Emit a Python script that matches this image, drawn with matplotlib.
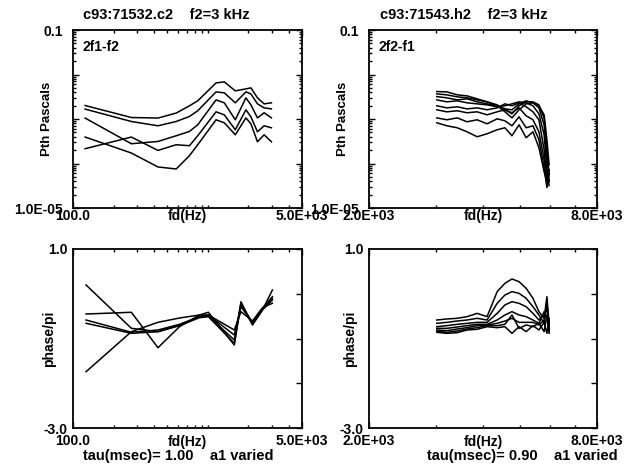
import matplotlib
matplotlib.use('Agg')
import matplotlib.pyplot as plt
from matplotlib.ticker import FixedLocator, FixedFormatter, LogLocator, NullFormatter

plt.rcParams['font.family'] = ['Liberation Sans', 'DejaVu Sans']
plt.rcParams['font.weight'] = 'bold'

# ---- top left: 2f1-f2 amplitude, f1 sweep ----
fd_left = [123, 271, 427, 583, 731, 842, 1152, 1326, 1600, 1918, 2088, 2336, 2618, 2965]
amp_left = [
    [2.01e-3, 1.08e-3, 1.05e-3, 1.36e-3, 1.98e-3, 2.56e-3, 6.48e-3, 6.82e-3, 4.29e-3, 4.75e-3, 5.01e-3, 2.99e-3, 2.19e-3, 2.31e-3],
    [1.67e-3, 8.79e-4, 7.04e-4, 8.79e-4, 1.14e-3, 1.53e-3, 4.07e-3, 3.87e-3, 2.31e-3, 4.07e-3, 3.67e-3, 2.19e-3, 1.78e-3, 1.69e-3],
    [1.05e-3, 2.78e-4, 3.13e-4, 4.20e-4, 5.25e-4, 7.41e-4, 2.69e-3, 2.31e-3, 9.60e-4, 2.99e-3, 2.08e-3, 1.06e-3, 1.38e-3, 1.06e-3],
    [3.93e-4, 1.72e-4, 8.35e-5, 7.53e-5, 1.50e-4, 2.64e-4, 9.60e-4, 8.22e-4, 4.42e-4, 1.06e-3, 7.80e-4, 3.08e-4, 4.42e-4, 3.08e-4],
    [2.15e-4, 3.93e-4, 1.97e-4, 2.64e-4, 2.51e-4, 4.20e-4, 1.45e-3, 1.24e-3, 5.73e-4, 1.61e-3, 1.12e-3, 5.16e-4, 7.04e-4, 6.35e-4],
]

# ---- bottom left: phase ----
fd_left_ph = [125, 271, 427, 617, 867, 1010, 1573, 1762, 2146, 2544, 3016]
phase_left = [
    [-0.453, -0.414, -1.206, -0.736, -0.475, -0.414, -1.145, -0.178, -0.698, -0.363, 0.084],
    [0.196, -0.772, -0.848, -0.698, -0.513, -0.475, -0.922, -0.289, -0.638, -0.325, -0.066],
    [-1.742, -0.848, -0.638, -0.542, -0.475, -0.475, -0.810, -0.401, -0.609, -0.312, -0.213],
    [-0.587, -0.861, -0.810, -0.683, -0.513, -0.497, -1.034, -0.213, -0.660, -0.341, -0.102],
    [-0.660, -0.884, -0.848, -0.714, -0.535, -0.513, -1.107, -0.251, -0.683, -0.363, -0.140],
]

# ---- top right: 2f2-f1 amplitude ----
fd_right = [3020, 3210, 3420, 3630, 3860, 4100, 4360, 4570, 4770, 4980, 5200, 5420, 5620, 5800, 5900, 5980]
amp_right = [
    [4.14e-3, 4.07e-3, 3.49e-3, 3.31e-3, 2.84e-3, 2.43e-3, 1.98e-3, 1.45e-3, 1.06e-3, 1.61e-3, 2.19e-3, 2.31e-3, 1.98e-3, 1.24e-3, 3.42e-4, 9.40e-5],
    [3.67e-3, 3.49e-3, 3.15e-3, 2.99e-3, 2.69e-3, 2.43e-3, 2.08e-3, 1.61e-3, 1.31e-3, 1.98e-3, 2.43e-3, 2.43e-3, 2.08e-3, 1.06e-3, 2.04e-4, 5.61e-5],
    [3.19e-3, 2.99e-3, 2.69e-3, 2.84e-3, 2.43e-3, 2.19e-3, 1.98e-3, 1.69e-3, 1.61e-3, 2.19e-3, 2.56e-3, 2.31e-3, 1.78e-3, 7.41e-4, 1.22e-4, 3.91e-5],
    [2.69e-3, 2.43e-3, 2.56e-3, 2.31e-3, 2.19e-3, 2.08e-3, 1.88e-3, 1.98e-3, 2.19e-3, 2.43e-3, 2.31e-3, 1.98e-3, 1.31e-3, 4.42e-4, 7.26e-5, 3.18e-5],
    [1.98e-3, 1.78e-3, 1.88e-3, 1.69e-3, 1.78e-3, 1.61e-3, 1.78e-3, 2.19e-3, 1.98e-3, 2.31e-3, 1.88e-3, 1.45e-3, 9.60e-4, 2.04e-4, 4.80e-5, 4.33e-5],
    [1.61e-3, 1.45e-3, 1.53e-3, 1.38e-3, 1.45e-3, 1.24e-3, 1.45e-3, 1.61e-3, 1.38e-3, 1.78e-3, 1.18e-3, 9.60e-4, 5.16e-4, 1.22e-4, 3.35e-5, 6.55e-5],
    [1.06e-3, 9.60e-4, 1.06e-3, 8.66e-4, 9.60e-4, 7.80e-4, 1.01e-3, 9.11e-4, 7.04e-4, 1.12e-3, 6.35e-4, 7.04e-4, 3.42e-4, 8.05e-5, 2.87e-5, 5.61e-5],
    [8.22e-4, 7.04e-4, 6.35e-4, 5.16e-4, 3.99e-4, 4.66e-4, 5.73e-4, 6.35e-4, 4.20e-4, 7.41e-4, 3.79e-4, 5.16e-4, 2.26e-4, 6.55e-5, 3.91e-5, 7.26e-5],
]

# ---- bottom right: phase ----
phase_right = [
    [-0.587, -0.564, -0.549, -0.512, -0.438, -0.512, 0.047, 0.233, 0.330, 0.270, 0.121, -0.102, -0.400, -0.549, -0.065, -0.698],
    [-0.661, -0.639, -0.609, -0.587, -0.549, -0.587, -0.214, -0.028, 0.047, 0.009, -0.102, -0.289, -0.475, -0.661, -0.177, -0.847],
    [-0.736, -0.713, -0.683, -0.661, -0.639, -0.639, -0.438, -0.251, -0.177, -0.214, -0.289, -0.438, -0.587, -0.475, -0.326, -0.773],
    [-0.773, -0.773, -0.743, -0.713, -0.683, -0.683, -0.587, -0.475, -0.400, -0.475, -0.512, -0.587, -0.661, -0.400, -0.549, -0.885],
    [-0.810, -0.825, -0.788, -0.758, -0.713, -0.698, -0.661, -0.609, -0.549, -0.639, -0.639, -0.639, -0.698, -0.587, -0.214, -0.810],
    [-0.832, -0.862, -0.832, -0.788, -0.758, -0.713, -0.713, -0.683, -0.475, -0.773, -0.698, -0.736, -0.661, -0.847, -0.475, -0.624],
    [-0.862, -0.885, -0.870, -0.810, -0.795, -0.736, -0.758, -0.736, -0.885, -0.736, -0.847, -0.713, -0.810, -0.639, -0.885, -0.549],
]

titles = ['c93:71532.c2    f2=3 kHz', 'c93:71543.h2    f2=3 kHz']
captions = ['tau(msec)= 1.00    a1 varied', 'tau(msec)= 0.90    a1 varied']
corner_labels = ['2f1-f2', '2f2-f1']

fig = plt.figure(figsize=(6.34, 4.70), dpi=100)
W, H = 634, 470


def box(l, r, t, b):
    return [l / W, 1 - b / H, (r - l) / W, (b - t) / H]


ax_tl = fig.add_axes(box(73, 302, 30, 208))
ax_tr = fig.add_axes(box(369, 597, 30, 208))
ax_bl = fig.add_axes(box(73, 302, 249, 428))
ax_br = fig.add_axes(box(369, 597, 249, 428))

lw = 1.1
for ys in amp_left:
    ax_tl.plot(fd_left, ys, color='black', lw=lw)
for ys in amp_right:
    ax_tr.plot(fd_right, ys, color='black', lw=lw)
for ys in phase_left:
    ax_bl.plot(fd_left_ph, ys, color='black', lw=lw)
for ys in phase_right:
    ax_br.plot(fd_right, ys, color='black', lw=lw)


def style_x(ax, lo, hi, labels):
    ax.set_xscale('log')
    ax.set_xlim(lo, hi)
    ax.xaxis.set_major_locator(FixedLocator([lo, hi]))
    ax.xaxis.set_major_formatter(FixedFormatter(labels))
    ax.xaxis.set_minor_locator(LogLocator(base=10, subs=range(1, 10), numticks=30))
    ax.xaxis.set_minor_formatter(NullFormatter())


for ax in (ax_tl, ax_bl):
    style_x(ax, 100, 5000, ['100.0', '5.0E+03'])
for ax in (ax_tr, ax_br):
    style_x(ax, 2000, 8000, ['2.0E+03', '8.0E+03'])

for ax in (ax_tl, ax_tr):
    ax.set_yscale('log')
    ax.set_ylim(1e-5, 0.1)
    ax.yaxis.set_major_locator(FixedLocator([1e-5, 1e-4, 1e-3, 1e-2, 1e-1]))
    ax.yaxis.set_major_formatter(FixedFormatter(['1.0E-05', '', '', '', '0.1']))
    ax.yaxis.set_minor_locator(LogLocator(base=10, subs=range(2, 10), numticks=30))
    ax.yaxis.set_minor_formatter(NullFormatter())
    ax.set_ylabel('Pth Pascals', fontsize=9.5, fontweight='bold')
    ax.tick_params(axis='x', which='major', pad=1)
    ax.tick_params(axis='y', which='major', pad=7)

for ax in (ax_bl, ax_br):
    ax.set_ylim(-3, 1)
    ax.yaxis.set_major_locator(FixedLocator([-3, -2, -1, 0, 1]))
    ax.yaxis.set_major_formatter(FixedFormatter(['-3.0', '', '', '', '1.0']))
    ax.set_ylabel('phase/pi', fontsize=10, fontweight='bold')
    ax.tick_params(axis='x', which='major', pad=4)
    ax.tick_params(axis='y', which='major', pad=4)
    ax.tick_params(axis='y', which='both', left=False)

for ax in (ax_tl, ax_tr, ax_bl, ax_br):
    ax.tick_params(which='both', direction='in', top=True, right=True,
                   labelsize=10, width=1, colors='black')
    ax.tick_params(which='major', length=4)
    ax.tick_params(which='minor', length=2.5)
    for s in ax.spines.values():
        s.set_linewidth(1.3)
    for t in ax.get_xticklabels() + ax.get_yticklabels():
        t.set_fontweight('bold')
    ax.set_xlabel('fd(Hz)', fontsize=10, fontweight='bold')

ax_tl.xaxis.set_label_coords(0.5, -0.005)
ax_tr.xaxis.set_label_coords(0.5, -0.005)
ax_bl.xaxis.set_label_coords(0.5, -0.04)
ax_br.xaxis.set_label_coords(0.5, -0.04)
ax_tl.yaxis.set_label_coords(-0.087, 0.5)
ax_tr.yaxis.set_label_coords(-0.088, 0.5)
ax_bl.yaxis.set_label_coords(-0.074, 0.5)
ax_br.yaxis.set_label_coords(-0.053, 0.5)

for ax, lab in zip((ax_tl, ax_tr), corner_labels):
    ax.text(0.04, 0.905, lab, transform=ax.transAxes, fontsize=10,
            fontweight='bold', va='center', ha='left')

fig.text(166 / W, 1 - 15 / H, titles[0], fontsize=10.5, fontweight='bold', ha='center', va='center')
fig.text(464 / W, 1 - 15 / H, titles[1], fontsize=10.5, fontweight='bold', ha='center', va='center')
fig.text(178 / W, 1 - 456 / H, captions[0], fontsize=10.5, fontweight='bold', ha='center', va='center')
fig.text(522 / W, 1 - 456 / H, captions[1], fontsize=10.5, fontweight='bold', ha='center', va='center')

fig.savefig('out.png', dpi=100)
